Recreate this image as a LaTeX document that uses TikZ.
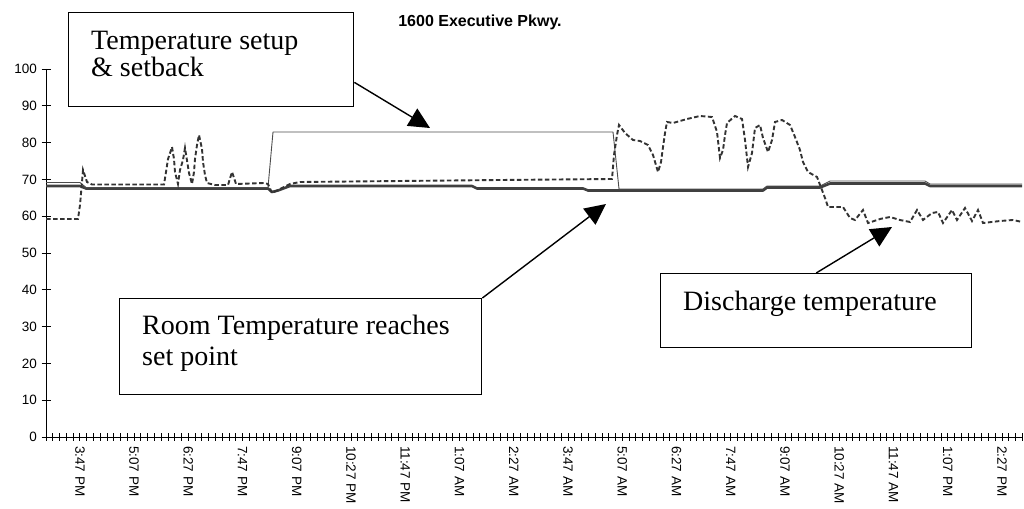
\documentclass[tikz,border=0pt]{standalone}
\usepackage{fontspec}
\setmainfont{Liberation Serif}
\setsansfont{Liberation Sans}
\usetikzlibrary{arrows.meta}
\begin{document}
\begin{tikzpicture}[x=1pt,y=-1pt,
  axis/.style={line width=0.9pt, black},
  lbl/.style={font=\sffamily\fontsize{13.5}{16}\selectfont, inner sep=0pt},
  callout/.style={draw, line width=1.4pt, fill=white, inner sep=0pt},
  ctext/.style={font=\fontsize{28}{32}\selectfont, inner sep=0pt, anchor=base west},
  pointer/.style={line width=1.4pt, -{Triangle[length=21pt,width=20pt]}},
  roomline/.style={line width=2.6pt, color=black!75, line join=round},
  setline/.style={line width=0.9pt, color=black!70, line join=round},
  dischline/.style={line width=1.9pt, color=black!80, dash pattern=on 4.5pt off 2.5pt},
]
\useasboundingbox (0,0) rectangle (1024,508);

% axes
\draw[axis] (46,69) -- (46,437) -- (1022.3,437);
\foreach \v in {0,10,...,100} {
  \draw[axis] (41.5,{437-3.68*\v}) -- (50.5,{437-3.68*\v});
  \node[lbl, anchor=east] (y\v) at (37,{437-3.68*\v}) {\v};
}
\foreach \k in {0,...,144}
  \draw[axis] ({46+6.78*\k},433) -- ({46+6.78*\k},441);
\foreach \k/\t in {5/3:47 PM, 13/5:07 PM, 21/6:27 PM, 29/7:47 PM, 37/9:07 PM,
  45/10:27 PM, 53/11:47 PM, 61/1:07 AM, 69/2:27 AM, 77/3:47 AM, 85/5:07 AM,
  93/6:27 AM, 101/7:47 AM, 109/9:07 AM, 117/10:27 AM, 125/11:47 AM,
  133/1:07 PM, 141/2:27 PM}
  \node[lbl, rotate=-90, anchor=west] (x\k) at ({46+6.78*\k},446) {\t};

% title
\node[font=\sffamily\bfseries\fontsize{16}{19}\selectfont, inner sep=0pt, anchor=base] (title) at (480,27) {1600 Executive Pkwy.};

% room temperature (thick)
\draw[roomline] (46,186) -- (80,186) -- (86,188.5) -- (268,188.5) -- (272,192) -- (278,190.5) -- (290,186) -- (472,186) -- (477,188.5) -- (583,188.5) -- (588,190.5) -- (763,190.5) -- (767,187.5) -- (820,187.5) -- (830,183.5) -- (925,183.5) -- (930,186) -- (1022,186);

% set point (thin)
\draw[setline] (46,182.5) -- (80,182.5) -- (86,187.5) -- (268,187.5) -- (273,132) -- (613,132) -- (619,189) -- (763,189) -- (767,186) -- (820,186) -- (830,181) -- (925,181) -- (930,184) -- (1022,184);

% discharge (dashed)
\draw[dischline] (46,219) -- (78,219) -- (80,205) -- (82,182) -- (83,170) -- (87,182) -- (92,184.5) -- (164,184.5) -- (166,172) -- (168,159) -- (172,147) -- (174,159) -- (175,172) -- (178,184) -- (180,170) -- (183,160) -- (185,148) -- (189,173) -- (192,184) -- (194,172) -- (195,159) -- (197,145) -- (199,135) -- (202,149) -- (203,162) -- (205,175) -- (207,183) -- (215,185) -- (228,185) -- (232,172) -- (236,184) -- (264,183) -- (268,184) -- (272,193) -- (280,189) -- (290,184) -- (300,182) -- (400,181) -- (500,180) -- (612,179) -- (614,155) -- (617,135) -- (619,125) -- (625,133) -- (633,140) -- (640,141) -- (648,145) -- (653,155) -- (658,172) -- (661,162) -- (663,147) -- (665,133) -- (667,122) -- (673,123) -- (687,119) -- (700,116) -- (712,117) -- (717,132) -- (720,158) -- (723,150) -- (725,135) -- (727,123) -- (735,116) -- (742,119) -- (745,140) -- (748,167) -- (752,153) -- (755,128) -- (760,125) -- (763,138) -- (768,152) -- (772,140) -- (775,122) -- (782,120) -- (790,125) -- (795,137) -- (800,150) -- (803,162) -- (808,172) -- (817,177) -- (822,190) -- (825,198) -- (828,207) -- (843,207) -- (850,218) -- (855,220) -- (863,210) -- (868,223) -- (880,219) -- (890,217) -- (900,220) -- (910,222) -- (917,210) -- (923,220) -- (932,213) -- (938,212) -- (943,223) -- (952,210) -- (957,220) -- (965,208) -- (972,221) -- (978,210) -- (983,223) -- (1000,221) -- (1013,220) -- (1022,222);

% callout boxes
\node[callout, minimum width=285pt, minimum height=94pt, anchor=north west] (b1) at (68,12) {};
\node[ctext] (b1a) at (91,50) {Temperature setup};
\node[ctext] (b1b) at (91,77) {\& setback};
\node[callout, minimum width=362pt, minimum height=96pt, anchor=north west] (b2) at (119,298) {};
\node[ctext] (b2a) at (142,334) {Room Temperature reaches};
\node[ctext] (b2b) at (142,365) {set point};
\node[callout, minimum width=311pt, minimum height=74pt, anchor=north west] (b3) at (660,273) {};
\node[ctext] (b3a) at (683,310) {Discharge temperature};

% pointers
\coordinate (p1) at (430,128);
\coordinate (p2) at (606,204);
\coordinate (p3) at (892,227);
\draw[pointer] (b1.-9.6) -- (p1);
\draw[pointer] (b2.north east) -- (p2);
\draw[pointer] (b3.north) -- (p3);
\end{tikzpicture}
\end{document}
